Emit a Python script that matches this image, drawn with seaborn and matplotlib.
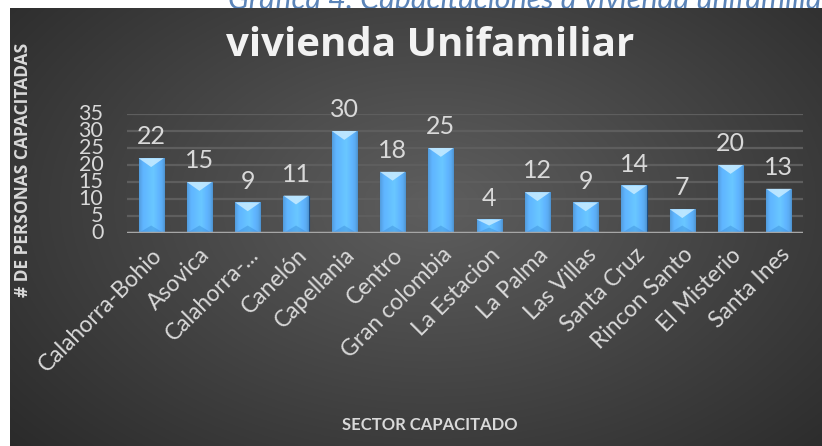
import numpy as np
import pandas as pd
import matplotlib
matplotlib.use("Agg")
import matplotlib.pyplot as plt
import seaborn as sns
from matplotlib.patches import Polygon

sectores = ["Calahorra-Bohio", "Asovica", "Calahorra-...", "Canelón", "Capellania",
            "Centro", "Gran colombia", "La Estacion", "La Palma", "Las Villas",
            "Santa Cruz", "Rincon Santo", "El Misterio", "Santa Ines"]
personas = [22, 15, 9, 11, 30, 18, 25, 4, 12, 9, 14, 7, 20, 13]
yticks = [0, 5, 10, 15, 20, 25, 30, 35]

df = pd.DataFrame({"sector": sectores, "personas": personas})

sns.set_style("dark")
plt.rcParams["font.family"] = ["Lato", "DejaVu Sans"]

W, H = 822, 446
fig = plt.figure(figsize=(W / 100, H / 100), dpi=100)
fig.patch.set_facecolor("white")

# cropped caption at the very top, partly hidden behind the dark panel
fig.text(228 / W, 1 - 9 / H, "Gráfica 4. Capacitaciones a vivienda unifamiliar",
         ha="left", va="baseline", fontsize=22, style="italic", color="#5b84b8",
         zorder=-20)

# dark radial background panel
bg = fig.add_axes([10 / W, 0, 1 - 10 / W, 1 - 8 / H], zorder=-5)
yy, xx = np.mgrid[0:1:300j, 0:1:500j]
r = np.sqrt(((xx - 0.52) / 0.75) ** 2 + ((yy - 0.45) / 0.9) ** 2)
shade = np.clip(1 - r, 0, 1)
lo = np.array([0.15, 0.15, 0.15])
hi = np.array([0.37, 0.37, 0.37])
img = lo + (hi - lo) * shade[..., None]
bg.imshow(img, aspect="auto", extent=[0, 1, 0, 1], origin="upper")
bg.set_axis_off()

ax = fig.add_axes([127 / W, 1 - 233 / H, (803 - 127) / W, (233 - 114) / H])
ax.set_facecolor("none")

sns.barplot(data=df, x="sector", y="personas", ax=ax, color="#4a9be0",
            width=0.52, edgecolor="#1d4f86", linewidth=0.8, zorder=3)

# gradient fill + bevel on each bar
grad = np.linspace(0, 1, 64)
prof = np.interp(grad, [0, 0.15, 0.55, 0.9, 1], [0.55, 0.8, 1.0, 0.7, 0.45])
base = np.array([0.36, 0.68, 0.96])
bar_img = np.clip(base[None, None, :] * (0.6 + 0.55 * prof[None, :, None]), 0, 1)
for p in ax.patches:
    x0, w, h = p.get_x(), p.get_width(), p.get_height()
    im = ax.imshow(bar_img, extent=[x0, x0 + w, 0, h], aspect="auto", zorder=3.5)
    im.set_clip_path(p)
    d = min(2.6, h * 0.45)
    ax.add_patch(Polygon([[x0, h], [x0 + w, h], [x0 + w / 2, h - d]],
                         closed=True, facecolor="#c9ecff", edgecolor="none",
                         alpha=0.85, zorder=4))
    ax.add_patch(Polygon([[x0, 0], [x0 + w, 0], [x0 + w / 2, min(2.2, h * 0.4)]],
                         closed=True, facecolor="#2f7fcf", edgecolor="none",
                         alpha=0.35, zorder=4))
    ax.annotate(f"{int(h)}", (x0 + w / 2, h), xytext=(0, 7), textcoords="offset points",
                ha="center", va="bottom", fontsize=18, color="#d9d9d9", zorder=5,
                annotation_clip=False)

ax.set_xlim(-0.5, len(sectores) - 0.5)
ax.set_ylim(0, 35)
ax.set_yticks(yticks)
ax.set_yticklabels([str(v) for v in yticks], fontsize=15.5, color="#d9d9d9")
ax.yaxis.set_tick_params(length=0, pad=17)
for lab in ax.get_yticklabels():
    lab.set_verticalalignment("center")
ax.set_xticks(range(len(sectores)))
ax.set_xticklabels(sectores, rotation=45, ha="right", rotation_mode="anchor",
                   fontsize=16.5, color="#d9d9d9")
ax.xaxis.set_tick_params(length=0, pad=8)
ax.grid(axis="y", color="#5e5e5e", linewidth=1.6, zorder=0)
ax.grid(axis="x", visible=False)
ax.axhline(0, color="#a6a6a6", linewidth=2.5, zorder=6)
for s in ax.spines.values():
    s.set_visible(False)
ax.set_xlabel("")
ax.set_ylabel("")

fig.text(0.523, 1 - 45 / H, "vivienda Unifamiliar", ha="center", va="center",
         fontsize=29, fontweight="bold", color="#f2f2f2", family=["Open Sans", "DejaVu Sans"])
fig.text(23 / W, 1 - 170 / H, "# DE PERSONAS CAPACITADAS", rotation=90,
         ha="center", va="center", fontsize=12.5, fontweight="bold", color="#d9d9d9",
         family=["Open Sans", "DejaVu Sans"])
fig.text(430 / W, 1 - 425 / H, "SECTOR CAPACITADO", ha="center", va="center",
         fontsize=12, fontweight="bold", color="#d9d9d9")

fig.savefig("out.png", dpi=100)
